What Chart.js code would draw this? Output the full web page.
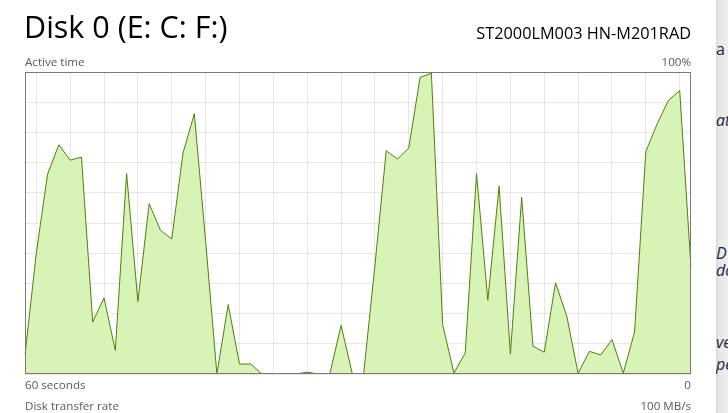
<!DOCTYPE html>
<html><head><meta charset="utf-8">
<script src="https://cdn.jsdelivr.net/npm/chart.js@4.4.1/dist/chart.umd.min.js"></script>
<style>
html,body{margin:0;padding:0;background:#fff;width:728px;height:413px;overflow:hidden;font-family:"Open Sans",sans-serif;}
#wrap{position:absolute;left:0;top:0;width:728px;height:413px;}
.t{position:absolute;white-space:nowrap;line-height:1;}
.s{font-size:11.6px;color:#5a5a5a;}
.r{text-align:right;}
#side{position:absolute;left:716px;top:0;width:12px;height:413px;background:linear-gradient(to right,#d4d4d4 0px,#e6e6e6 2px,#efefef 12px);overflow:hidden;}
.it{position:absolute;font-style:italic;font-size:16px;color:#1f2340;line-height:1;white-space:nowrap;}
</style></head><body>
<div id="wrap"><canvas id="c"></canvas></div>
<div class="t" style="left:24px;top:11.4px;font-size:30.5px;color:#000;">Disk 0 (E: C: F:)</div>
<div class="t r" style="right:37px;top:24.8px;font-size:16.3px;color:#000;">ST2000LM003 HN-M201RAD</div>
<div class="t s" style="left:25px;top:56.4px;">Active time</div>
<div class="t s r" style="right:37px;top:56.4px;">100%</div>
<div class="t s" style="left:25px;top:379px;">60 seconds</div>
<div class="t s r" style="right:37px;top:379px;">0</div>
<div class="t s" style="left:25px;top:400.4px;">Disk transfer rate</div>
<div class="t s r" style="right:37px;top:400.4px;">100 MB/s</div>
<div id="side">
<div class="it" style="left:0px;top:41px;font-style:normal;">a</div>
<div class="it" style="left:0px;top:112px;">at</div>
<div class="it" style="left:0px;top:245px;">D</div>
<div class="it" style="left:0px;top:262px;">do</div>
<div class="it" style="left:0px;top:334px;">ve</div>
<div class="it" style="left:0px;top:356px;">pe</div>
</div>
<script>
// Seconds ago, 60 -> 0 (left to right)
const seconds = Array.from({length: 60}, (_, i) => 59 - i);
// Active time (%) per second
const activeTime = [
  6.4, 40, 66.2, 75.9, 70.8, 71.8, 17.2, 25.2, 7.8, 66.4,
  24.0, 56.4, 47.6, 44.7, 73.2, 86.2, 44, 0, 23, 3.3,
  3.3, 0, 0, 0, 0, 0.6, 0, 0, 16.1, 0,
  0, 36, 73.9, 71.2, 74.8, 98.2, 99.6, 16.3, 0.3, 7,
  66.4, 24.4, 62.2, 6.6, 58.5, 9.2, 7.2, 30.2, 19.1, 0.2,
  7.5, 6.3, 11.4, 0.3, 13.9, 73.7, 82.8, 90.6, 93.8, 35.1
];
const yTicks = [0, 10, 20, 30, 40, 50, 60, 70, 80, 90, 100];

const frame = {
  id: 'frame',
  afterDraw(chart) {
    const {ctx, chartArea: a} = chart;
    ctx.save();
    ctx.strokeStyle = '#7a7a7a';
    ctx.lineWidth = 1;
    ctx.strokeRect(Math.round(a.left) + 0.5, Math.round(a.top) + 0.5,
                   Math.round(a.right - a.left) - 1, Math.round(a.bottom - a.top) - 1);
    ctx.restore();
  }
};

new Chart(document.getElementById('c'), {
  type: 'line',
  data: {
    labels: seconds,
    datasets: [{
      data: activeTime,
      borderColor: '#4f800f',
      backgroundColor: '#d7f3b5',
      borderWidth: 1,
      fill: 'origin',
      tension: 0,
      pointRadius: 0
    }]
  },
  options: {
    responsive: true,
    maintainAspectRatio: false,
    animation: false,
    events: [],
    layout: {padding: {left: 25, right: 37, top: 72, bottom: 39}},
    plugins: {legend: {display: false}, tooltip: {enabled: false}},
    scales: {
      x: {
        type: 'category',
        offset: false,
        z: 1,
        border: {display: false},
        ticks: {display: false, autoSkip: false},
        grid: {
          drawTicks: false,
          tickLength: 0,
          color: (c) => (c.index % 3 === 1 ? 'rgba(0,0,0,0.09)' : 'rgba(0,0,0,0)')
        }
      },
      y: {
        min: 0, max: 100,
        z: 1,
        afterBuildTicks: (s) => { s.ticks = yTicks.map(v => ({value: v})); },
        border: {display: false},
        ticks: {display: false},
        grid: {drawTicks: false, tickLength: 0, color: 'rgba(0,0,0,0.09)'}
      }
    }
  },
  plugins: [frame]
});
</script>
</body></html>
